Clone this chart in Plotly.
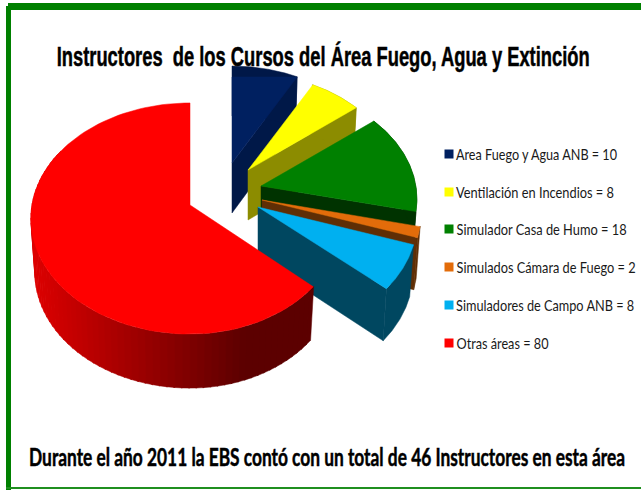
import json
import numpy as np
import plotly.graph_objects as go

# --- data -----------------------------------------------------------------
categories = ["Area Fuego y Agua ANB", "Ventilación en Incendios", "Simulador Casa de Humo",
              "Simulados Cámara de Fuego", "Simuladores de Campo ANB", "Otras áreas"]
values = [10, 8, 18, 2, 8, 80]
top_colors = ["#002060", "#FFFF00", "#008000", "#E36C0A", "#00B0F0", "#FF0000"]
side_colors = ["#001848", "#8C8C00", "#003300", "#5F2E05", "#004760", "#7A0000"]
title_text = "Instructores  de los Cursos del Área Fuego, Agua y Extinción"
note_text = "Durante el año 2011 la EBS contó con un total de 46 Instructores en esta área"

# --- exploded-pie projection (styling, not data) ---------------------------
apex = [(232, 163), (248, 170), (261, 186), (262, 200), (258, 207), (190, 205)]
scale = [0.95, 0.94, 0.98, 1.0, 1.0, 1.0]
right_scale = [1, 1, 1, 1, 1, 0.96]
depth = [50, 50, 50, 52, 52, 54]
RX, RY, K = 158.0, 114.0, 0.117
CEILING = 77
legend_rows = [154, 192, 229, 267, 305, 343]
legend_widths = [161, 158, 170, 179, 178, 92]

edges = np.cumsum([0] + values) / sum(values) * 2 * np.pi


def project(theta, i, low=False):
    u, v = np.sin(theta), np.cos(theta)
    d = 1 + K * v
    rx = RX * scale[i] * (0.975 if low else 1.0)
    u = np.where(u > 0, u * right_scale[i], u)
    x = apex[i][0] + rx * u / d
    y = apex[i][1] - RY * scale[i] * v / d + (depth[i] if low else 0)
    return x, y


def poly(x, y, color):
    return go.Scatter(x=np.append(x, x[0]), y=np.append(y, y[0]), mode="lines", fill="toself",
                      fillcolor=color, line=dict(color=color, width=0.5),
                      hoverinfo="skip", showlegend=False)


fig = go.Figure()
for i in range(len(values)):
    t = np.linspace(edges[i], edges[i + 1], 100)
    ax, ay = apex[i]
    tx, ty = project(t, i)
    lx, ly = project(t, i, True)
    tail = i == len(values) - 1
    if tail:
        wall = np.linspace(edges[i], np.radians(300), 70)
        for a, b in zip(wall[:-1], wall[1:]):
            s = np.array([a - 0.004, b + 0.004])
            x1, y1 = project(s, i)
            x2, y2 = project(s, i, True)
            f = np.clip((x1.mean() - 30) / 215, 0, 1)
            c = f"rgb({int(222 - 130 * f)},0,0)"
            fig.add_trace(poly(np.r_[x1, x2[::-1]], np.r_[y1, y2[::-1]], c))
    else:
        ex, ey = tx[-1], ty[-1]
        elx, ely = lx[-1], ly[-1]
        fig.add_trace(poly(np.array([ax, ex, elx, ax]),
                           np.array([ay, ey, ely, ay + depth[i]]), side_colors[i]))
        fig.add_trace(poly(np.r_[tx, lx[::-1]], np.r_[ty, ly[::-1]], side_colors[i]))
    fig.add_trace(poly(np.r_[ax, tx], np.maximum(np.r_[ay, ty], CEILING), top_colors[i]))

# each text: [final width, final font size, stroke]; the layout size keeps its box inside the page
squeeze = {}
for name, val, col, row, w in zip(categories, values, top_colors, legend_rows, legend_widths):
    fig.add_trace(go.Scatter(x=[449], y=[row], mode="markers", hoverinfo="skip", showlegend=False,
                             marker=dict(symbol="square", size=9, color=col)))
    label = f"{name} = {val}"
    squeeze[label] = [w, 16, 0]
    fig.add_annotation(x=456 + w / 2, y=row + 1.5, text=label, showarrow=False, xanchor="center",
                       yanchor="middle", font=dict(family="Lato", size=12, color="#1a1a1a"))

squeeze[title_text] = [533, 28, 0.5]
squeeze[note_text] = [596, 25, 0.5]
fig.add_annotation(x=322.5, y=60, text=f"<b>{title_text}</b>", showarrow=False,
                   font=dict(family="Liberation Sans", size=17, color="#000000"))
fig.add_annotation(x=327, y=459.5, text=f"<b>{note_text}</b>", showarrow=False,
                   font=dict(family="Lato", size=15, color="#000000"))

frame = "#008000"
shapes = [
    dict(type="rect", x0=8, x1=641, y0=3, y1=10, fillcolor=frame, line_width=0, layer="above"),
    dict(type="rect", x0=6, x1=11, y0=6, y1=490, fillcolor=frame, line_width=0, layer="above"),
    dict(type="rect", x0=6, x1=641, y0=487, y1=489, fillcolor="#1f8f1f", line_width=0, layer="above"),
]
fig.update_layout(
    width=641, height=490, margin=dict(l=0, r=0, t=0, b=0), autosize=False,
    paper_bgcolor="white", plot_bgcolor="white", showlegend=False, shapes=shapes,
    xaxis=dict(range=[0, 641], visible=False, fixedrange=True),
    yaxis=dict(range=[490, 0], visible=False, fixedrange=True),
)
post = """
document.body.style.margin = '0';
document.documentElement.style.overflow = 'hidden';
var W = %s;
document.querySelectorAll('.annotation-text').forEach(function (el) {
  var k = el.textContent.replace(/\\s+/g, ' ');
  Object.keys(W).forEach(function (t) {
    if (t.replace(/\\s+/g, ' ') === k) {
      el.style.fontSize = W[t][1] + 'px';
      el.querySelectorAll('tspan').forEach(function (s) { s.style.fontSize = W[t][1] + 'px'; });
      el.setAttribute('textLength', W[t][0]);
      el.setAttribute('lengthAdjust', 'spacingAndGlyphs');
      if (W[t][2]) { el.style.stroke = '#000'; el.style.strokeWidth = W[t][2] + 'px'; }
    }
  });
});
""" % json.dumps(squeeze, ensure_ascii=False)
fig.write_html("out.html", config=dict(displayModeBar=False), post_script=post)
